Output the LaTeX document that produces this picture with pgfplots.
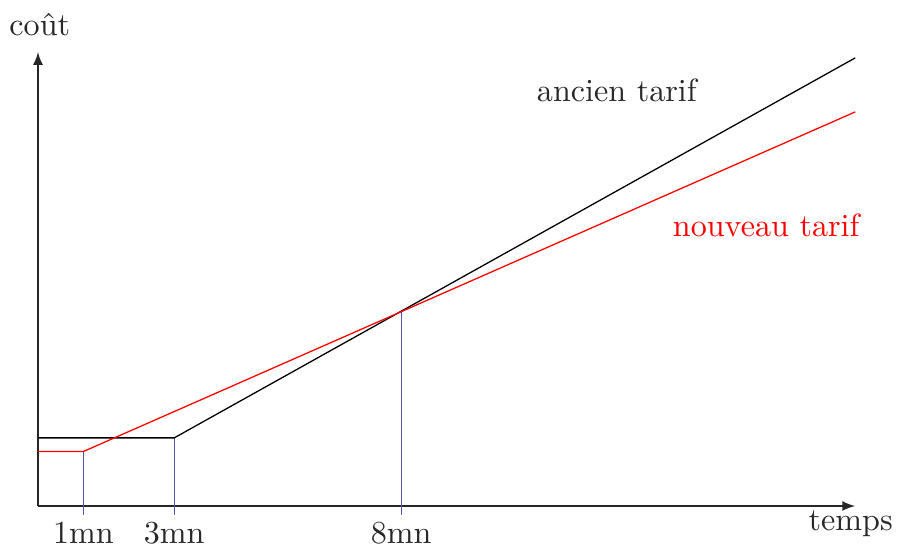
\documentclass[border=0pt]{standalone}
\usepackage{pgfplots}
\pgfplotsset{compat=1.18}
\definecolor{vblue}{RGB}{85,85,175}
\definecolor{txt}{RGB}{40,40,40}
\begin{document}
\begin{tikzpicture}
\begin{axis}[
  x=14.14pt, y=14.14pt,
  xmin=0, xmax=18, ymin=0, ymax=10,
  axis lines=left,
  axis line style={-latex, black!85, line width=0.4pt},
  ticks=none,
  clip=false,
]
% blue guide lines
\addplot[vblue, line width=0.4pt] coordinates {(1,-0.2) (1,1.2)};
\addplot[vblue, line width=0.4pt] coordinates {(3,-0.2) (3,1.5)};
\addplot[vblue, line width=0.4pt] coordinates {(8,-0.2) (8,4.29)};
% ancien tarif
\addplot[black, line width=0.4pt] coordinates {(0,1.5) (3,1.5) (18,9.87)};
% nouveau tarif
\addplot[red, line width=0.4pt] coordinates {(0,1.2) (1,1.2) (18,8.68)};
\node[txt] at (axis cs:1,-0.6) {1mn};
\node[txt] at (axis cs:3,-0.6) {3mn};
\node[txt] at (axis cs:8,-0.6) {8mn};
\node[txt] at (axis cs:0.04,10.6) {coût};
\node[txt] at (axis cs:17.9,-0.4) {temps};
\node[txt] at (axis cs:12.75,9.16) {ancien tarif};
\node[red] at (axis cs:16.04,6.19) {nouveau tarif};
\coordinate (bl) at (axis cs:-0.837,-0.925);
\coordinate (tr) at (axis cs:18.92,11.145);
\end{axis}
\pgfresetboundingbox
\path (bl) rectangle (tr);
\end{tikzpicture}
\end{document}
